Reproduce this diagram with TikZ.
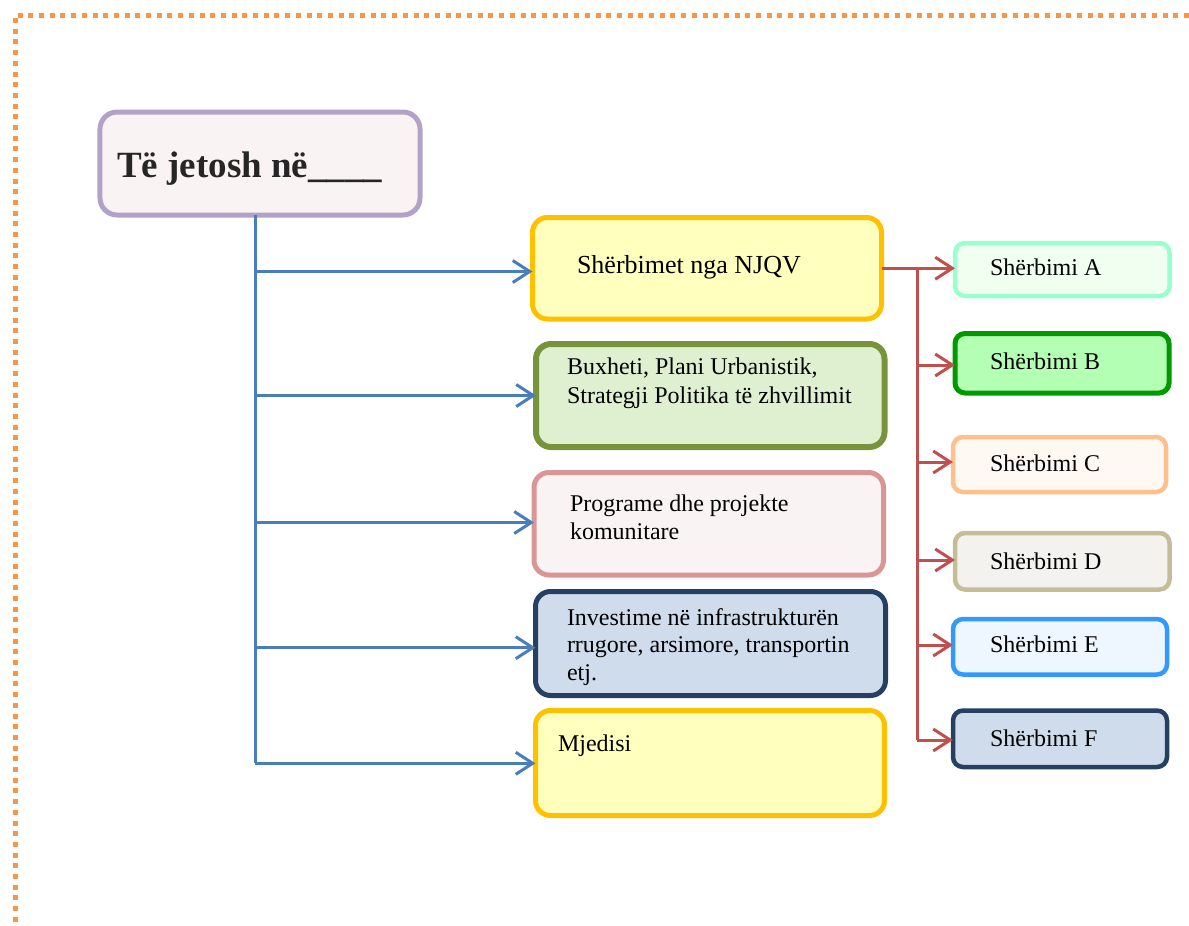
\documentclass[tikz,border=0pt]{standalone}
\usepackage{fontspec}
\setmainfont{Liberation Serif}
\usetikzlibrary{arrows.meta}
\definecolor{dotor}{HTML}{F79646}
\definecolor{bconn}{HTML}{4A7EBB}
\definecolor{rconn}{HTML}{C0504D}
\definecolor{tfill}{HTML}{FAF3F3}
\definecolor{tdraw}{HTML}{B3A2C7}
\definecolor{yfill}{HTML}{FFFFBE}
\definecolor{ydraw}{HTML}{FFC000}
\definecolor{gfill}{HTML}{DFF0D0}
\definecolor{gdraw}{HTML}{77933C}
\definecolor{pfill}{HTML}{FAF3F3}
\definecolor{pdraw}{HTML}{D99694}
\definecolor{nfill}{HTML}{CFDCEC}
\definecolor{ndraw}{HTML}{254061}
\definecolor{afill}{HTML}{F0FFF0}
\definecolor{adraw}{HTML}{99FFCC}
\definecolor{bfill}{HTML}{B3FFB3}
\definecolor{bdraw}{HTML}{009900}
\definecolor{cfill}{HTML}{FFF8F3}
\definecolor{cdraw}{HTML}{FFC08C}
\definecolor{dfill}{HTML}{F3F2EE}
\definecolor{ddraw}{HTML}{C4BD97}
\definecolor{efill}{HTML}{EEF6FF}
\definecolor{edraw}{HTML}{3399FF}
\definecolor{ttext}{HTML}{262626}
\tikzset{
  bigbox/.style={draw, line width=5bp, rounded corners=15bp, inner sep=0pt, outer sep=0pt},
  smallbox/.style={draw, line width=4.5bp, rounded corners=10bp, inner sep=0pt, outer sep=0pt},
  lbl/.style={anchor=base west, inner sep=0pt, outer sep=0pt, align=left, font=\fontsize{24bp}{27.5bp}\selectfont},
  bline/.style={draw=bconn, line width=3bp},
  barrow/.style={bline, -{Straight Barb[length=17bp,width=22bp,line width=3bp]}},
  rline/.style={draw=rconn, line width=3bp},
  rarrow/.style={rline, -{Straight Barb[length=17bp,width=22bp,line width=3bp]}},
  dotborder/.style={draw=dotor, line width=5bp, dash pattern=on 5bp off 5.7bp}
}
\begin{document}
\begin{tikzpicture}[x=1bp, y=-1bp]
\useasboundingbox (0,0) rectangle (1189,926);
\draw[dotborder] (1189,15) -- (15,15) -- (15,926);

% title
\node[bigbox, rounded corners=17bp, fill=tfill, draw=tdraw, minimum width=320bp, minimum height=103bp] (T) at (260,163.5) {};
\node[anchor=base west, inner sep=0pt, text=ttext, font=\fontsize{37bp}{44bp}\selectfont\bfseries] (Tt) at (117,177) {Të jetosh në\_\_\_\_};

% middle boxes
\node[bigbox, fill=yfill, draw=ydraw, minimum width=349bp, minimum height=101.5bp] (m1) at (707,268.25) {};
\node[bigbox, line width=6bp, fill=gfill, draw=gdraw, minimum width=348.5bp, minimum height=103bp] (m2) at (710.25,395.5) {};
\node[bigbox, fill=pfill, draw=pdraw, minimum width=349.5bp, minimum height=102.5bp] (m3) at (708.75,523.75) {};
\node[bigbox, fill=nfill, draw=ndraw, minimum width=350bp, minimum height=104bp] (m4) at (710.5,643.5) {};
\node[bigbox, fill=yfill, draw=ydraw, minimum width=349bp, minimum height=105bp] (m5) at (710,763) {};

% multi-line labels: anchor base = baseline of the last line
\node[lbl, font=\fontsize{26bp}{29bp}\selectfont] (m1t) at (577,273.5) {Shërbimet nga NJQV};
\node[lbl, font=\fontsize{24bp}{29bp}\selectfont] (m2t) at (567,403.3) {Buxheti, Plani Urbanistik,\\Strategji Politika të zhvillimit};
\node[lbl] (m3t) at (570,539) {Programe dhe projekte\\komunitare};
\node[lbl] (m4t) at (567,680) {Investime në infrastrukturën\\rrugore, arsimore, transportin\\etj.};
\node[lbl] (m5t) at (558,751.7) {Mjedisi};

% right boxes
\node[smallbox, fill=afill, draw=adraw, minimum width=214.5bp, minimum height=53bp] (A) at (1062.25,269.5) {};
\node[smallbox, line width=5bp, fill=bfill, draw=bdraw, minimum width=214bp, minimum height=59.5bp] (B) at (1062,363.25) {};
\node[smallbox, fill=cfill, draw=cdraw, minimum width=213bp, minimum height=55bp] (C) at (1059.5,464.5) {};
\node[smallbox, fill=dfill, draw=ddraw, minimum width=214.5bp, minimum height=56.5bp] (D) at (1062.25,561.25) {};
\node[smallbox, fill=efill, draw=edraw, minimum width=214bp, minimum height=55.5bp] (E) at (1060,646.75) {};
\node[smallbox, fill=nfill, draw=ndraw, minimum width=214bp, minimum height=56.5bp] (F) at (1060,738.75) {};

\node[lbl] (At) at (990,275) {Shërbimi A};
\node[lbl] (Bt) at (990,369) {Shërbimi B};
\node[lbl] (Ct) at (990,471) {Shërbimi C};
\node[lbl] (Dt) at (990,569) {Shërbimi D};
\node[lbl] (Et) at (990,652) {Shërbimi E};
\node[lbl] (Ft) at (990,746) {Shërbimi F};

% blue connectors
\coordinate (tr) at (255,215);
\coordinate (b1) at (255,271.5);
\coordinate (b2) at (255,395.5);
\coordinate (b3) at (255,522.5);
\coordinate (b4) at (255,647.7);
\coordinate (b5) at (255,763.3);
\draw[bline] (tr) -- (b5);
\draw[barrow] (b1) -- (b1 -| m1.west);
\draw[barrow] (b2) -- (b2 -| m2.west);
\draw[barrow] (b3) -- (b3 -| m3.west);
\draw[barrow] (b4) -- (b4 -| m4.west);
\draw[barrow] (b5) -- (b5 -| m5.west);

% red connectors
\coordinate (r1) at (917,268.25);
\coordinate (r2) at (917,365);
\coordinate (r3) at (917,462);
\coordinate (r4) at (917,560);
\coordinate (r5) at (917,645);
\coordinate (r6) at (917,740);
\draw[rline] (m1.east) -- (r1);
\draw[rline] (r1) -- (r6);
\draw[rarrow] (r1) -- (r1 -| A.west);
\draw[rarrow] (r2) -- (r2 -| B.west);
\draw[rarrow] (r3) -- (r3 -| C.west);
\draw[rarrow] (r4) -- (r4 -| D.west);
\draw[rarrow] (r5) -- (r5 -| E.west);
\draw[rarrow] (r6) -- (r6 -| F.west);
\end{tikzpicture}
\end{document}
